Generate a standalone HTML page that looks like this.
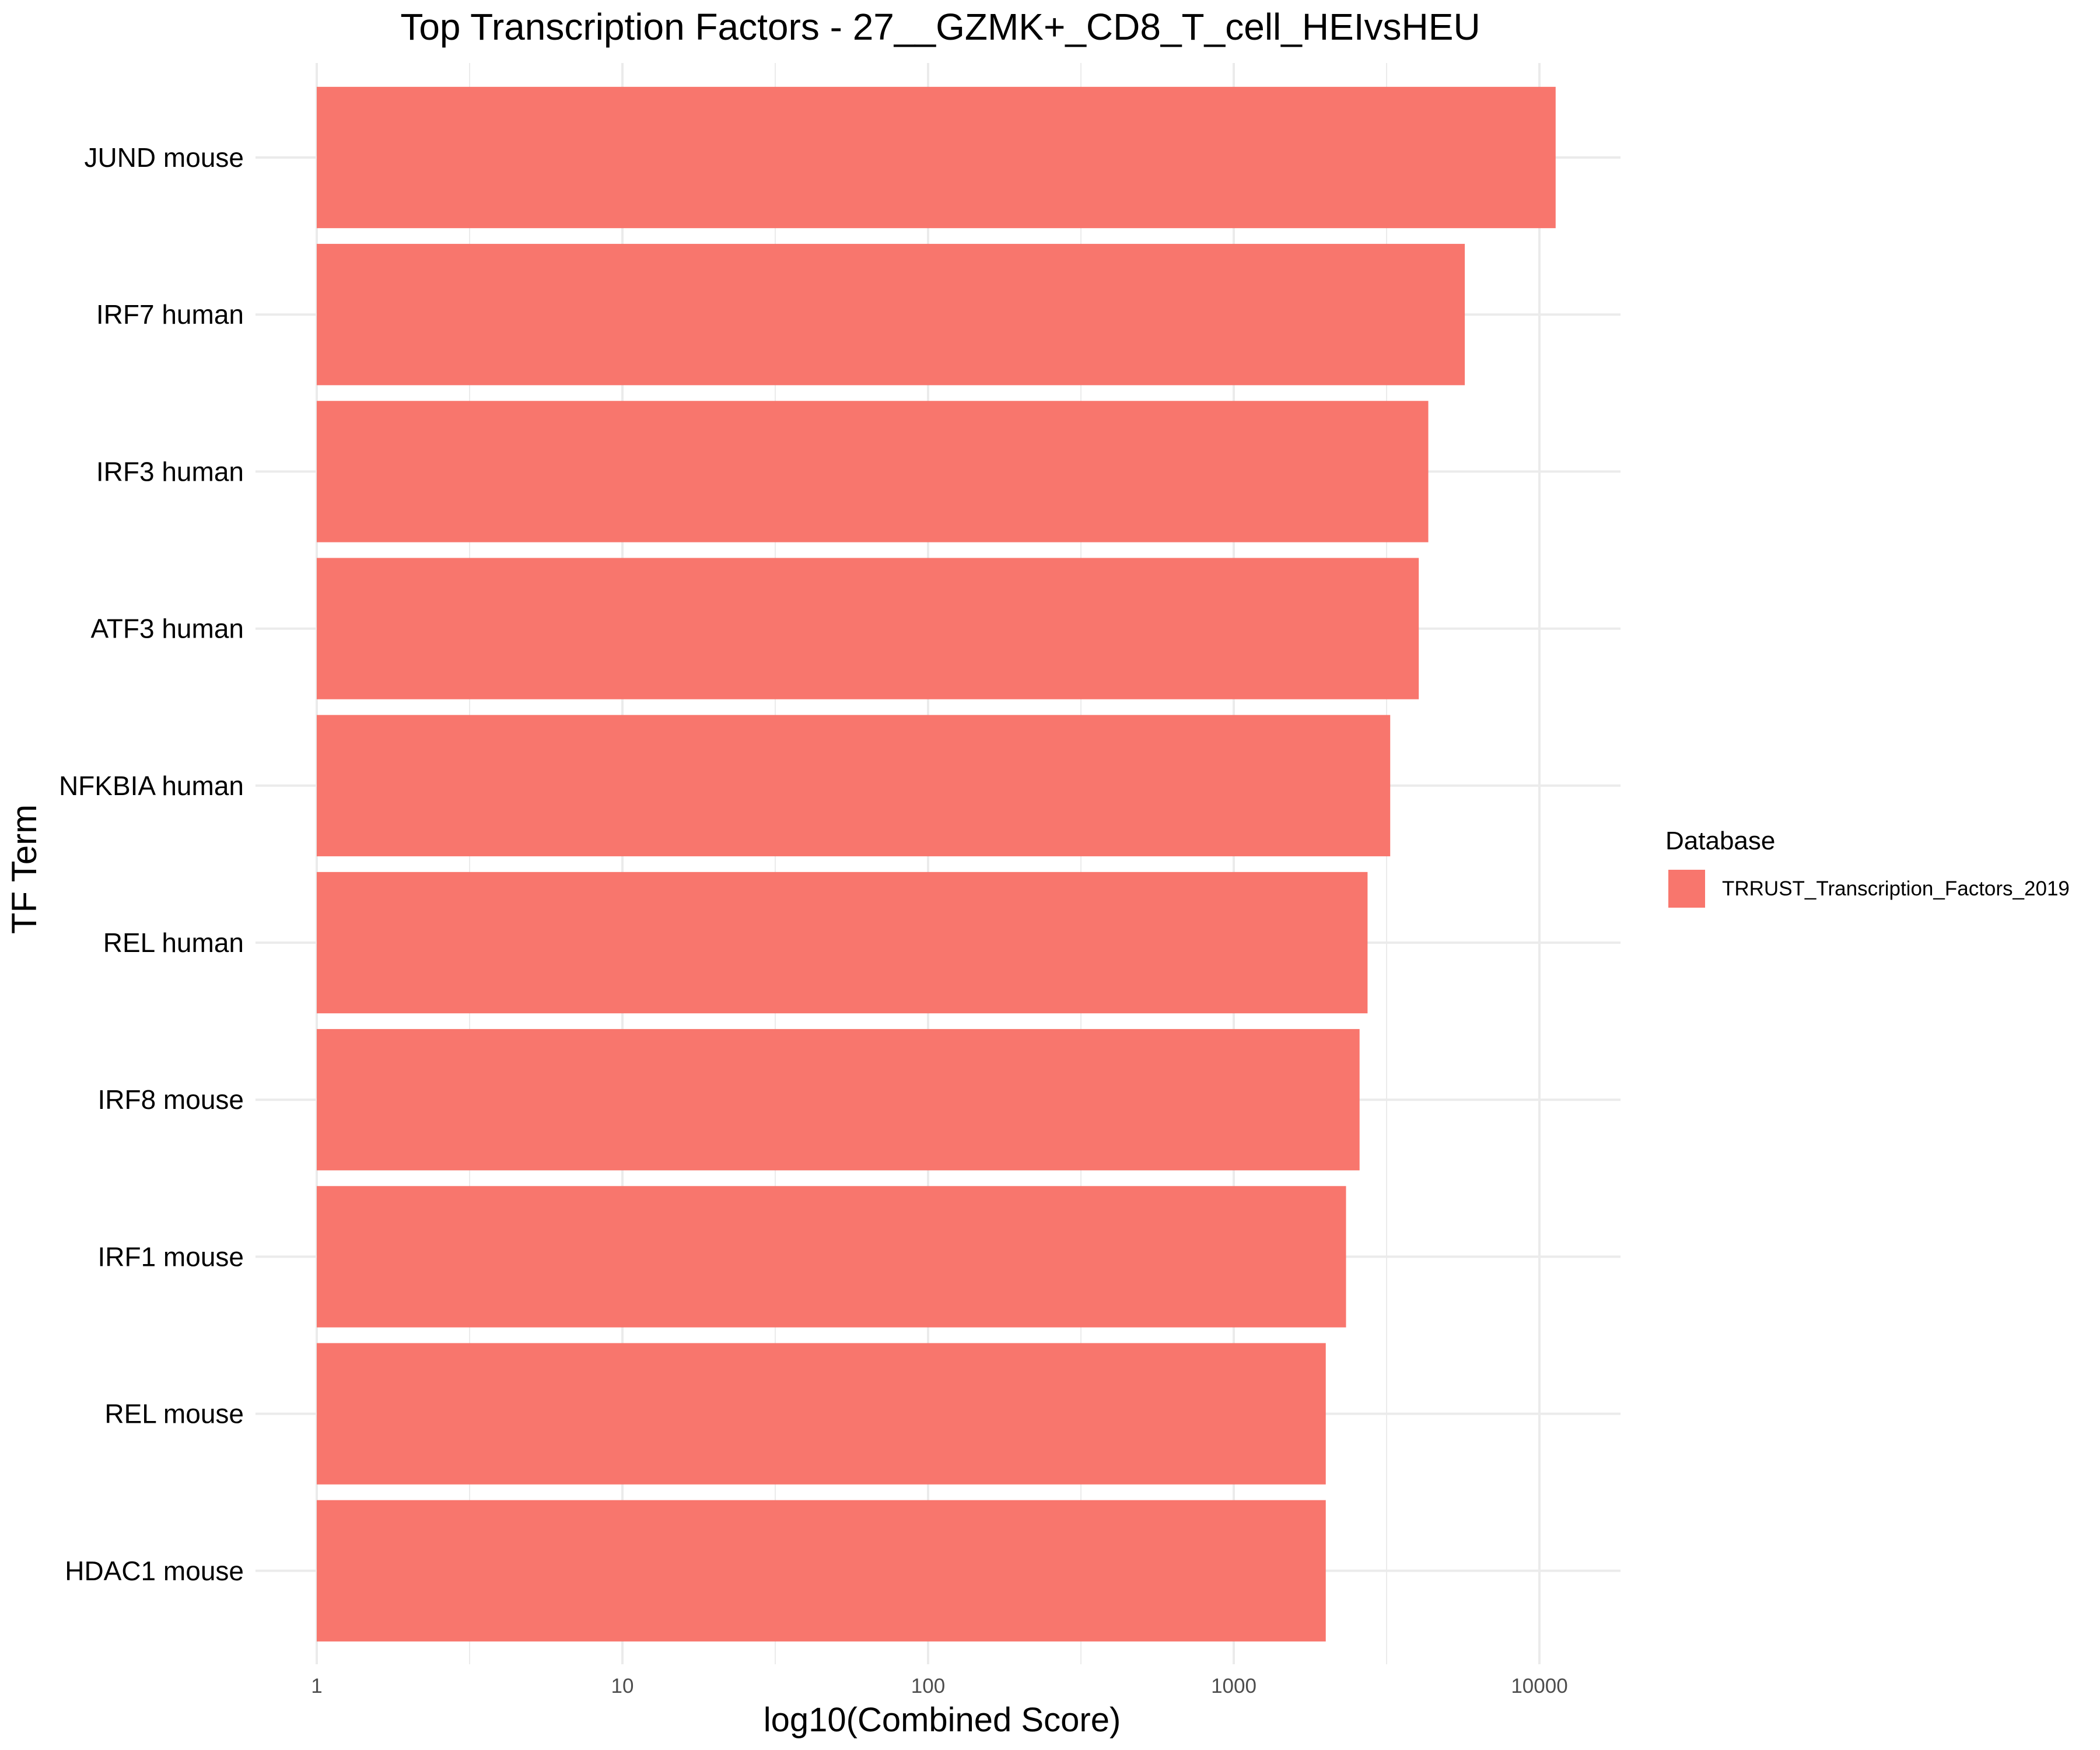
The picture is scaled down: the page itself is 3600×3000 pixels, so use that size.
<!DOCTYPE html>
<html><head><meta charset="utf-8"><style>
html,body{margin:0;padding:0;background:#fff;}
svg{display:block;font-family:"Liberation Sans",sans-serif;}
</style></head><body>
<svg id="chart" width="3600" height="3000" viewBox="0 0 3600 3000">
<text x="1612" y="68" font-size="64" text-anchor="middle" fill="#000">Top Transcription Factors - 27__GZMK+_CD8_T_cell_HEIvsHEU</text>
<g id="grid"></g>
<g id="bars"></g>
<g id="yaxis"></g>
<g id="xaxis"></g>
<text x="1615" y="2968" font-size="58" text-anchor="middle" fill="#000">log10(Combined Score)</text>
<text transform="translate(62,1490) rotate(-90)" font-size="60" text-anchor="middle" fill="#000">TF Term</text>
<g>
<text x="2855" y="1456" font-size="44" fill="#000">Database</text>
<rect x="2860" y="1491" width="63" height="65" fill="#F8766D"/>
<text x="2952" y="1535" font-size="35" fill="#000">TRRUST_Transcription_Factors_2019</text>
</g>
</svg>
<script>
const categories=["JUND mouse","IRF7 human","IRF3 human","ATF3 human","NFKBIA human","REL human","IRF8 mouse","IRF1 mouse","REL mouse","HDAC1 mouse"];
const scores=[11300,5700,4330,4030,3250,2740,2580,2330,2000,2000];
const tickValues=[1,10,100,1000,10000];
const tickLabels=["1","10","100","1000","10000"];
const NS="http://www.w3.org/2000/svg";
const x0=543,dec=524,panelTop=108,panelBottom=2853,panelRight=2778,band=269.2,firstC=270;
function xs(v){return x0+dec*Math.log10(v);}
function yc(i){return firstC+i*band;}
function mk(t,a,p){const e=document.createElementNS(NS,t);for(const k in a)e.setAttribute(k,a[k]);p.appendChild(e);return e;}
const grid=document.getElementById('grid'),bars=document.getElementById('bars'),ya=document.getElementById('yaxis'),xa=document.getElementById('xaxis');
for(let i=0;i<tickValues.length;i++){
  const mv=tickValues[i]*Math.sqrt(10);
  if(xs(mv)<panelRight){const l=mk('line',{x1:xs(mv),x2:xs(mv),y1:panelTop,y2:panelBottom,stroke:'#ebebeb','stroke-width':2},grid);
  
  }
}
tickValues.forEach((v,i)=>{
  const l=mk('line',{x1:xs(v),x2:xs(v),y1:panelTop,y2:panelBottom,stroke:'#ebebeb','stroke-width':4},grid);
  
  
  const t=mk('text',{x:xs(v),y:2902,'font-size':35,'text-anchor':'middle',fill:'#4d4d4d'},xa);
  t.textContent=tickLabels[i];
  
  
});
categories.forEach((c,i)=>{
  const y=yc(i);
  const g=mk('line',{x1:438,x2:panelRight,y1:y,y2:y,stroke:'#ebebeb','stroke-width':4},grid);
  
  
  const w=xs(scores[i])-x0;
  const r=mk('rect',{x:x0,y:y-band*0.45,width:w,height:band*0.9,fill:'#F8766D'},bars);
  
  
  const t=mk('text',{x:418,y:y+16,'font-size':46,'text-anchor':'end',fill:'#000'},ya);
  t.textContent=c;
  
  
});
</script>
</body></html>
